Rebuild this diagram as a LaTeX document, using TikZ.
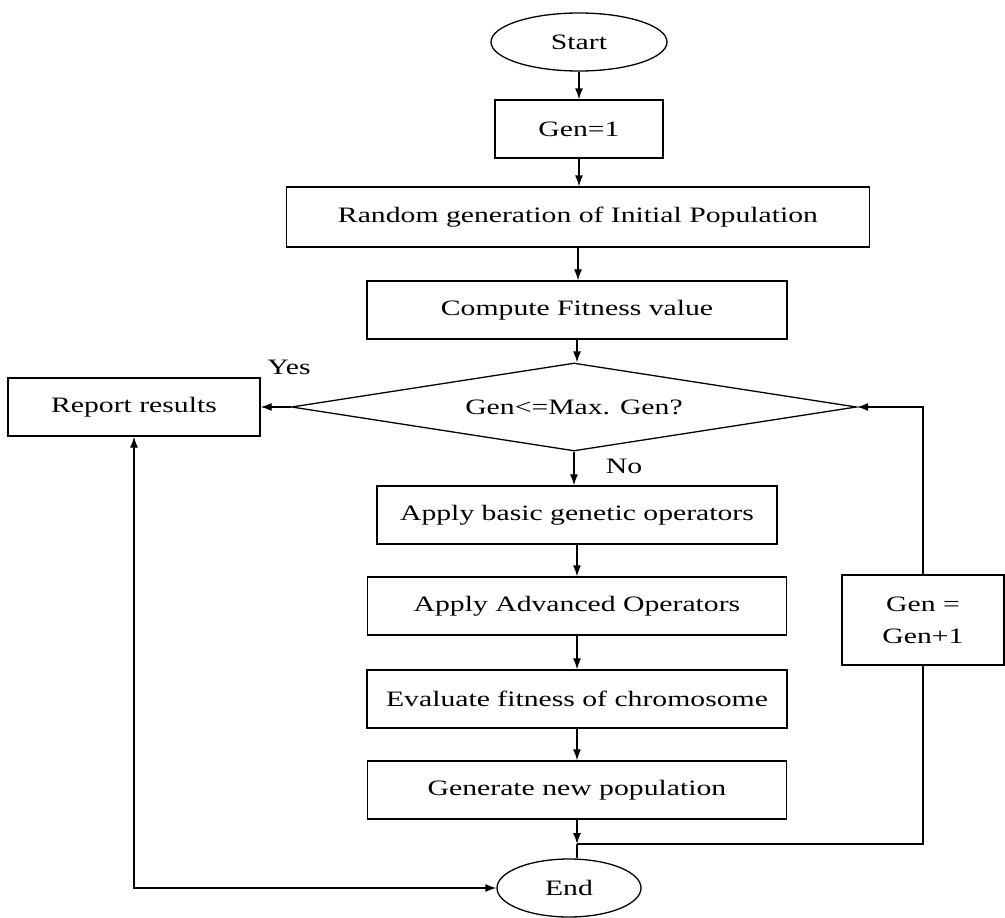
\documentclass[tikz,border=0pt]{standalone}
\usepackage{fontspec}
\setmainfont{Liberation Serif}[FakeStretch=1.35]
\usetikzlibrary{shapes.geometric, arrows.meta}

\tikzset{
	procbox/.style={draw, rectangle, inner sep=0pt, minimum height=58pt},
	termnode/.style={draw, ellipse, inner sep=0pt, minimum width=#1, minimum height=58pt},
	testnode/.style={draw, diamond, aspect=6.4, inner sep=0pt, minimum width=565pt, minimum height=88pt}
}

\begin{document}
\begin{tikzpicture}[x=1pt, y=-1pt, line width=1.3pt, >={Latex[length=11pt,width=8pt]},
		font=\fontsize{22}{26}\selectfont]
	\useasboundingbox (0,0) rectangle (1005,918);
	% main column
	\node[termnode=176pt] (start) at (579,42) {Start};
	\node[procbox, minimum width=168pt] (gen1) at (579,129) {Gen=1};
	\node[procbox, minimum width=583pt, minimum height=60pt] (random) at (578,217) {Random generation of Initial Population};
	\node[procbox, minimum width=420pt] (fitness) at (577,310) {Compute Fitness value};
	\node[testnode] (test) at (574,407) {Gen<=Max. Gen?};
	\node[procbox, minimum width=400pt] (basic) at (577,515) {Apply basic genetic operators};
	\node[procbox, minimum width=419pt] (advanced) at (577,606) {Apply Advanced Operators};
	\node[procbox, minimum width=420pt] (evaluate) at (577,699) {Evaluate fitness of chromosome};
	\node[procbox, minimum width=419pt] (newpop) at (577,790) {Generate new population};
	\node[termnode=144pt] (finish) at (569,888) {End};
	% side nodes
	\node[procbox, minimum width=252pt] (report) at (134,407) {Report results};
	\node[procbox, minimum width=162pt, minimum height=90pt, align=center,
		font=\fontsize{22}{32}\selectfont] (incr) at (923,620) {Gen =\\Gen+1};
	\node (yes) at (289,367) {Yes};
	\node (no) at (624,466) {No};
	\coordinate (join) at (577,844);

	\draw[->] (start) -- (gen1);
	\draw[->] (gen1.south) -- (gen1.south |- random.north);
	\draw[->] (random.south) -- (random.south |- fitness.north);
	\draw[->] (fitness.south) -- (fitness.south |- test.north);
	\draw[->] (test.west) -- (report.east);
	\draw[->] (test.south) -- (test.south |- basic.north);
	\draw[->] (basic) -- (advanced);
	\draw[->] (advanced) -- (evaluate);
	\draw[->] (evaluate) -- (newpop);
	\draw[->] (newpop) -- (join);
	\draw (join) -- (join |- finish.north);
	% loop back
	\draw (join) -| (incr.south);
	\draw[->] (incr.north) |- (test.east);
	\draw[<->] (report.south) |- (finish.west);
\end{tikzpicture}
\end{document}
